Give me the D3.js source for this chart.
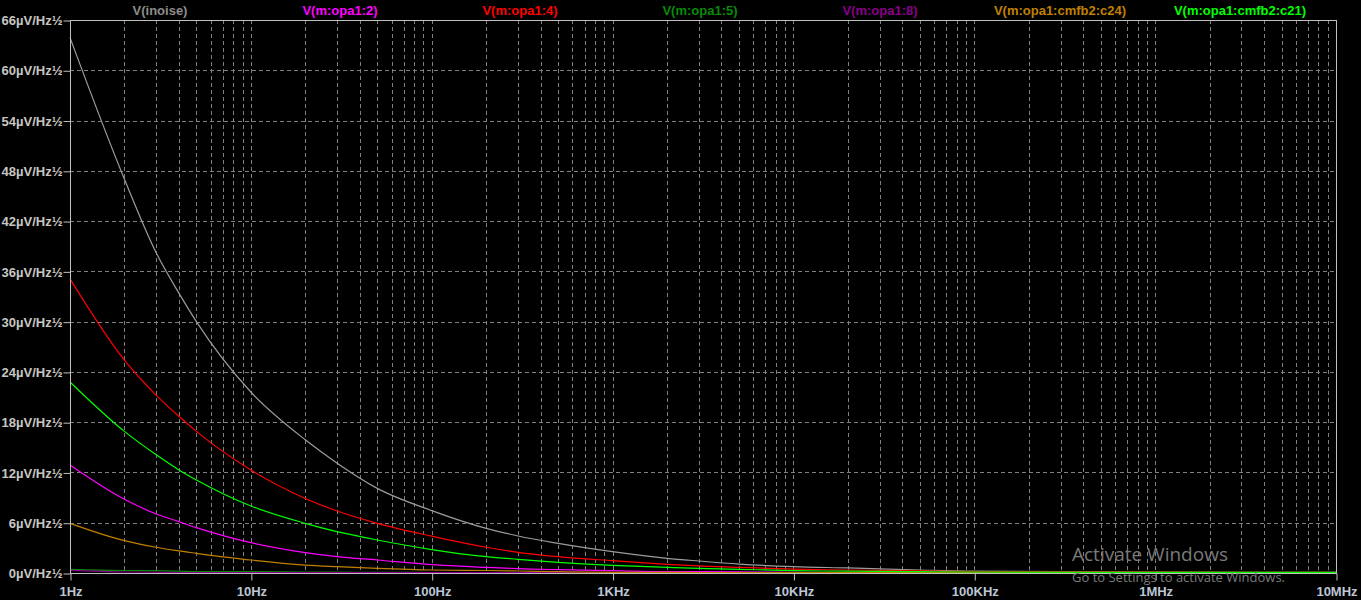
<!DOCTYPE html>
<html>
<head>
<meta charset="utf-8">
<title>noise</title>
<script src="https://cdn.jsdelivr.net/npm/d3@7"></script>
<style>
	body { margin:0; background:#000; }
	svg { display:block; }
</style>
</head>
<body>
<div id="plot"></div>
<script>
// frequencies (Hz) the traces were read at
var freqs = [1, 2, 3, 4, 5, 10, 20, 30, 50, 100, 200, 300, 500, 1e3, 2e3, 3e3, 5e3, 1e4, 2e4, 5e4, 1e5, 1e6, 1e7];

// noise density, uV/Hz^0.5
var inoise = [63.9, 47.0, 38.2, 33.4, 30.0, 21.6, 15.9, 13.1, 10.1, 7.45, 5.33, 4.42, 3.54, 2.55, 1.75, 1.43, 1.07, 0.76, 0.6, 0.36, 0.22, 0.1, 0.08];
var opa1_2 = [12.9, 8.8, 7.04, 6.13, 5.41, 3.62, 2.43, 1.95, 1.55, 1.0, 0.68, 0.52, 0.4, 0.28, 0.16, 0.16, 0.14, 0.08, 0.06, 0.05, 0.05, 0.05, 0.05];
var opa1_4 = [35.1, 25.4, 21.2, 18.7, 16.9, 12.3, 8.9, 7.4, 5.93, 4.4, 3.07, 2.47, 1.95, 1.47, 1.04, 0.84, 0.68, 0.46, 0.36, 0.25, 0.18, 0.1, 0.08];
var opa1_5 = [0.44, 0.3, 0.28, 0.22, 0.16, 0.16, 0.12, 0.1, 0.08, 0.06, 0.06, 0.05, 0.05, 0.05, 0.05, 0.05, 0.05, 0.05, 0.05, 0.05, 0.05, 0.05, 0.05];
var opa1_8 = [0.32, 0.12, 0.08, 0.06, 0.05, 0.05, 0.04, 0.04, 0.04, 0.04, 0.04, 0.04, 0.04, 0.04, 0.04, 0.04, 0.04, 0.04, 0.04, 0.04, 0.04, 0.04, 0.04];
var cmfb2_c24 = [5.93, 3.86, 3.07, 2.63, 2.35, 1.55, 0.95, 0.76, 0.56, 0.36, 0.3, 0.24, 0.16, 0.08, 0.07, 0.06, 0.06, 0.06, 0.06, 0.06, 0.06, 0.06, 0.06];
var cmfb2_c21 = [22.8, 16.9, 14.1, 12.3, 11.1, 8.0, 5.93, 4.93, 3.94, 2.8, 1.95, 1.63, 1.27, 0.92, 0.68, 0.56, 0.44, 0.28, 0.22, 0.16, 0.12, 0.08, 0.08];

var traceNames = ["V(inoise)", "V(m:opa1:2)", "V(m:opa1:4)", "V(m:opa1:5)", "V(m:opa1:8)", "V(m:opa1:cmfb2:c24)", "V(m:opa1:cmfb2:c21)"];
var traceVals = [inoise, opa1_2, opa1_4, opa1_5, opa1_8, cmfb2_c24, cmfb2_c21];
var traceCols = ["#9c9c9c", "#ff00ff", "#ff0000", "#088a08", "#8a008a", "#c08000", "#00ff00"];

var xTicks = [1, 10, 100, 1e3, 1e4, 1e5, 1e6, 1e7];
var xTickLabels = ["1Hz", "10Hz", "100Hz", "1KHz", "10KHz", "100KHz", "1MHz", "10MHz"];
var yTicks = [0, 6, 12, 18, 24, 30, 36, 42, 48, 54, 60, 66];

// plot box (window.top is read only, so no "top" here)
var pL = 70, pR = 1336, pT = 20, pB = 573;

var svg = d3.select("#plot").append("svg")
	.attr("width", 1361)
	.attr("height", 600);

svg.append("rect").attr("width", 1361).attr("height", 600).attr("fill", "#000");

var x = d3.scaleLog().domain([1, 1e7]).range([pL, pR]);
var y = d3.scaleLinear().domain([0, 66]).range([pB, pT]);

// minor + major vertical grid
var gridF = [];
for (var d = 1; d < 1e7; d *= 10) {
	for (var k = 1; k < 10; k++) gridF.push(d * k);
}
svg.append("g").selectAll("line").data(gridF.filter(function(f){ return f > 1; }))
	.enter().append("line")
	.attr("x1", function(f){ return Math.round(x(f)) + 0.5; })
	.attr("x2", function(f){ return Math.round(x(f)) + 0.5; })
	.attr("y1", pT)
	.attr("y2", pB)
	.attr("stroke", "#808080")
	.attr("stroke-width", 1)
	.attr("stroke-dasharray", "4,3");

svg.append("g").selectAll("line").data(yTicks.filter(function(v){ return v > 0 && v < 66; }))
	.enter().append("line")
	.attr("x1", pL)
	.attr("x2", pR)
	.attr("y1", function(v){ return Math.round(y(v)) + 0.5; })
	.attr("y2", function(v){ return Math.round(y(v)) + 0.5; })
	.attr("stroke", "#808080")
	.attr("stroke-width", 1)
	.attr("stroke-dasharray", "4,3");

// traces
var line = d3.line()
	.x(function(d){ return x(d[0]); })
	.y(function(d){ return y(d[1]); })
	.curve(d3.curveMonotoneX);

svg.append("g").selectAll("path").data(traceVals)
	.enter().append("path")
	.attr("d", function(vals){ return line(freqs.map(function(f, i){ return [f, vals[i]]; })); })
	.attr("fill", "none")
	.attr("stroke", function(d, i){ return traceCols[i]; })
	.attr("stroke-width", 1.2);

// frame
svg.append("rect")
	.attr("x", pL + 0.5)
	.attr("y", pT + 0.5)
	.attr("width", pR - pL)
	.attr("height", pB - pT)
	.attr("fill", "none")
	.attr("stroke", "#c0c0c0")
	.attr("stroke-width", 1);

// y axis
var yAxis = d3.axisLeft(y).tickValues(yTicks).tickSize(7).tickPadding(1)
	.tickFormat(function(v){ return v + "\u00b5V/Hz\u00bd"; });
var gy = svg.append("g").attr("transform", "translate(" + (pL + 0.5) + ",0.5)").call(yAxis);
gy.select(".domain").remove();
gy.selectAll(".tick line").attr("stroke", "#c0c0c0");
gy.selectAll(".tick text")
	.attr("fill", "#c8c6c2")
	.attr("font-family", "Arial, 'Liberation Sans', sans-serif")
	.attr("font-size", "13px")
	.attr("font-weight", "bold");

// x axis
var xAxis = d3.axisBottom(x).tickValues(xTicks).tickSize(7).tickPadding(6)
	.tickFormat(function(v, i){ return xTickLabels[i]; });
var gx = svg.append("g").attr("transform", "translate(0.5," + (pB + 0.5) + ")").call(xAxis);
gx.select(".domain").remove();
gx.selectAll(".tick line").attr("stroke", "#c0c0c0");
gx.selectAll(".tick text")
	.attr("fill", "#bcc6d4")
	.attr("font-family", "Arial, 'Liberation Sans', sans-serif")
	.attr("font-size", "13px")
	.attr("font-weight", "bold");

// trace names across the top
svg.append("g").selectAll("text").data(traceNames)
	.enter().append("text")
	.text(function(d){ return d; })
	.attr("x", function(d, i){ return 160 + i * 180; })
	.attr("y", 15)
	.attr("text-anchor", "middle")
	.attr("fill", function(d, i){ return i == 0 ? "#8c8c8c" : traceCols[i]; })
	.attr("font-family", "Arial, 'Liberation Sans', sans-serif")
	.attr("font-size", "13px")
	.attr("font-weight", "bold");

// watermark
svg.append("text").text("Activate Windows")
	.attr("x", 1072).attr("y", 561)
	.attr("fill", "#7a7a7a")
	.attr("font-family", "'Open Sans', 'Noto Sans', sans-serif")
	.attr("font-size", "19px");
svg.append("text").text("Go to Settings to activate Windows.")
	.attr("x", 1072).attr("y", 582)
	.attr("fill", "#7a7a7a")
	.attr("font-family", "'Open Sans', 'Noto Sans', sans-serif")
	.attr("font-size", "13px");
</script>
</body>
</html>
